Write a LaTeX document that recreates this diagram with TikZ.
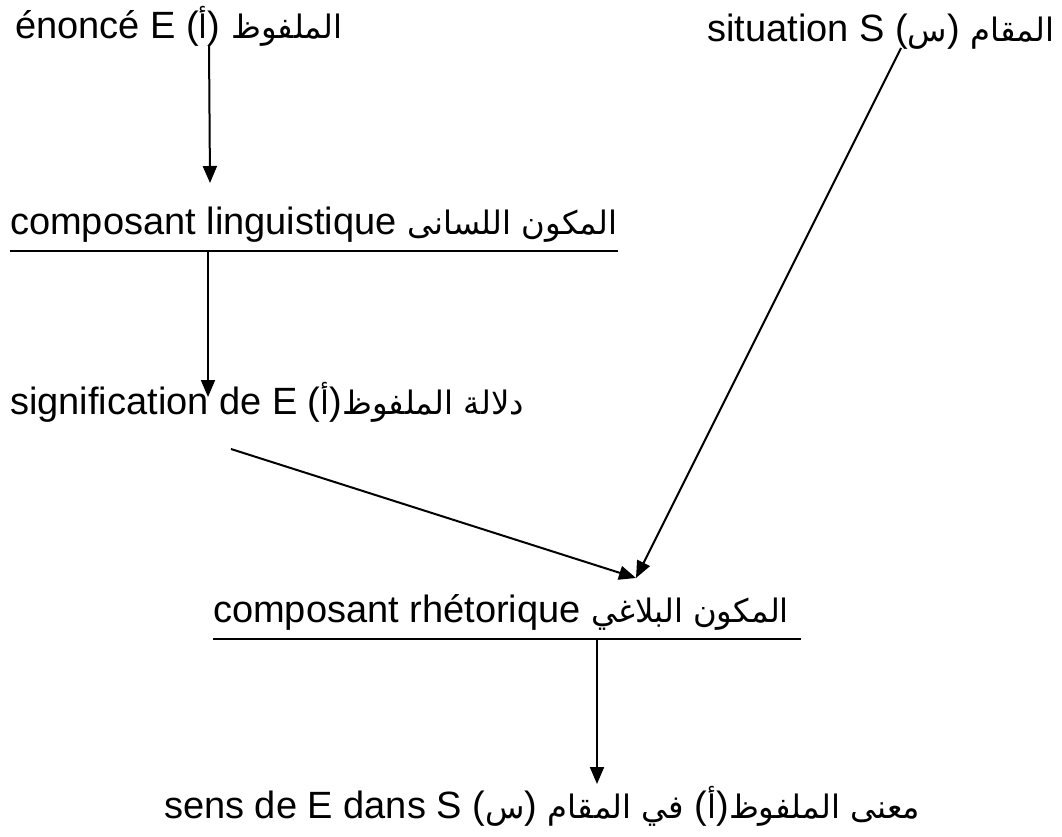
\documentclass[tikz,border=0pt]{standalone}
\usepackage{fontspec}
\setmainfont{Liberation Sans}
\newfontfamily\arabicfont[Script=Arabic,Scale=0.85]{DejaVu Sans}
\TeXXeTstate=1
\usepackage{tikz}
\usetikzlibrary{positioning,arrows.meta,calc}

\newcommand{\artxt}[1]{{\arabicfont\beginR #1\endR}}

\tikzset{
  txtline/.style={inner sep=0pt, anchor=base west, font=\fontsize{38pt}{44pt}\selectfont},
  arr/.style={line width=2pt, -{Triangle[length=17pt,width=14pt]}},
  uline/.style={line width=2.8pt}
}

\begin{document}
\begin{tikzpicture}[x=1pt, y=-1pt]
  \useasboundingbox (0,0) rectangle (1062,836);

  % the six lines of text
  \node[txtline] (enonce) at (15,38) {énoncé E (\artxt{أ}) \artxt{الملفوظ}};
  \node[txtline] (situation) at (707,41) {situation S (\artxt{س}) \artxt{المقام}};
  \node[txtline] (lingcomp) at (10,234) {composant linguistique \artxt{المكون اللسانى}};
  \node[txtline] (signif) at (10,414) {signification de E (\artxt{أ})\artxt{الملفوظ} \artxt{دلالة}};
  \node[txtline] (rhetcomp) at (213,622) {composant rhétorique \artxt{المكون البلاغي}};
  \node[txtline] (sens) at (164,818) {sens de E dans S (\artxt{س}) \artxt{في المقام} (\artxt{أ})\artxt{معنى الملفوظ}};

  % underlines
  \draw[uline] ([yshift=-17pt]lingcomp.base west) -- ([yshift=-17pt]lingcomp.base east);
  \draw[uline] ([yshift=-17pt]rhetcomp.base west) -- ([xshift=12pt,yshift=-17pt]rhetcomp.base east);

  % arrow ends
  \coordinate (enonceout) at (209,45);
  \coordinate (lingin) at (210,183);
  \coordinate (lingout) at (208,252);
  \coordinate (signifin) at (208,397);
  \coordinate (signifout) at (231,449);
  \coordinate (situout) at (901,48);
  \coordinate (rhetin) at (636,578);
  \coordinate (rhetout) at (597,640);
  \coordinate (sensin) at (597,784);

  \draw[arr] (enonceout) -- (lingin);
  \draw[arr] (lingout) -- (signifin);
  \draw[arr] (signifout) -- (rhetin);
  \draw[arr] (situout) -- (rhetin);
  \draw[arr] (rhetout) -- (sensin);
\end{tikzpicture}
\end{document}
